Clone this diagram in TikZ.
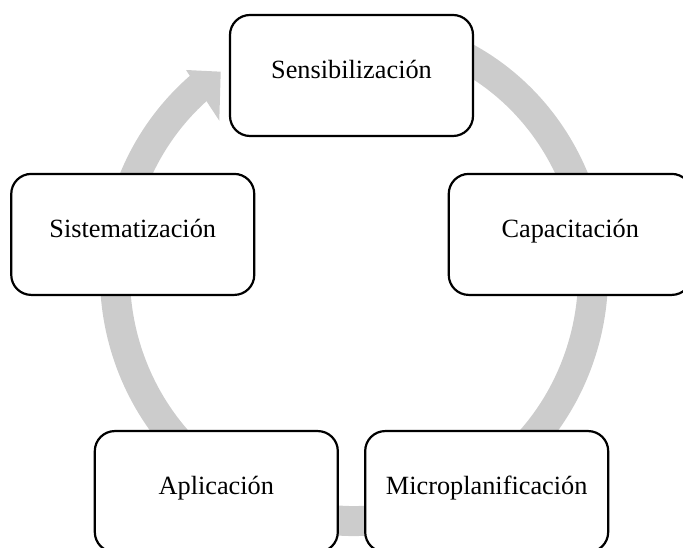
\documentclass[tikz,border=0pt]{standalone}
\usepackage{fontspec}
\setmainfont{Liberation Serif}
\begin{document}
\begin{tikzpicture}[x=1pt,y=1pt,
    stage/.style={draw,fill=white,line width=2.2pt,rounded corners=20pt,minimum width=243pt,minimum height=121pt,inner sep=0pt,text height=0.75em,text depth=0.15em,font=\fontsize{26.3pt}{30pt}\selectfont},
    ring/.style={black!20,line width=30pt}]
    \useasboundingbox (0,0) rectangle (683,548);
    \clip (0,0) rectangle (683,548);
    \coordinate (M) at (354,273);
    \coordinate (C) at (351.5,242.5);
    % cycle ring with its arrow head
    \draw[ring] ([shift={(70:239 and 246)}]M) arc[start angle=70,end angle=-230.5,x radius=239,y radius=246];
    \coordinate (W1) at (186,478);
    \coordinate (T) at (220.7,476.3);
    \coordinate (W2) at (219.3,427.3);
    \fill[black!20] (W1) -- (T) -- (W2) -- cycle;
    % stages
    \foreach \a/\n/\t in {90/sens/Sensibilización,18/cap/Capacitación,-54/micro/Microplanificación,-126/apl/Aplicación,162/sist/Sistematización}
        \node[stage] (\n) at ([shift={(\a:230)}]C) {\t};
\end{tikzpicture}
\end{document}
